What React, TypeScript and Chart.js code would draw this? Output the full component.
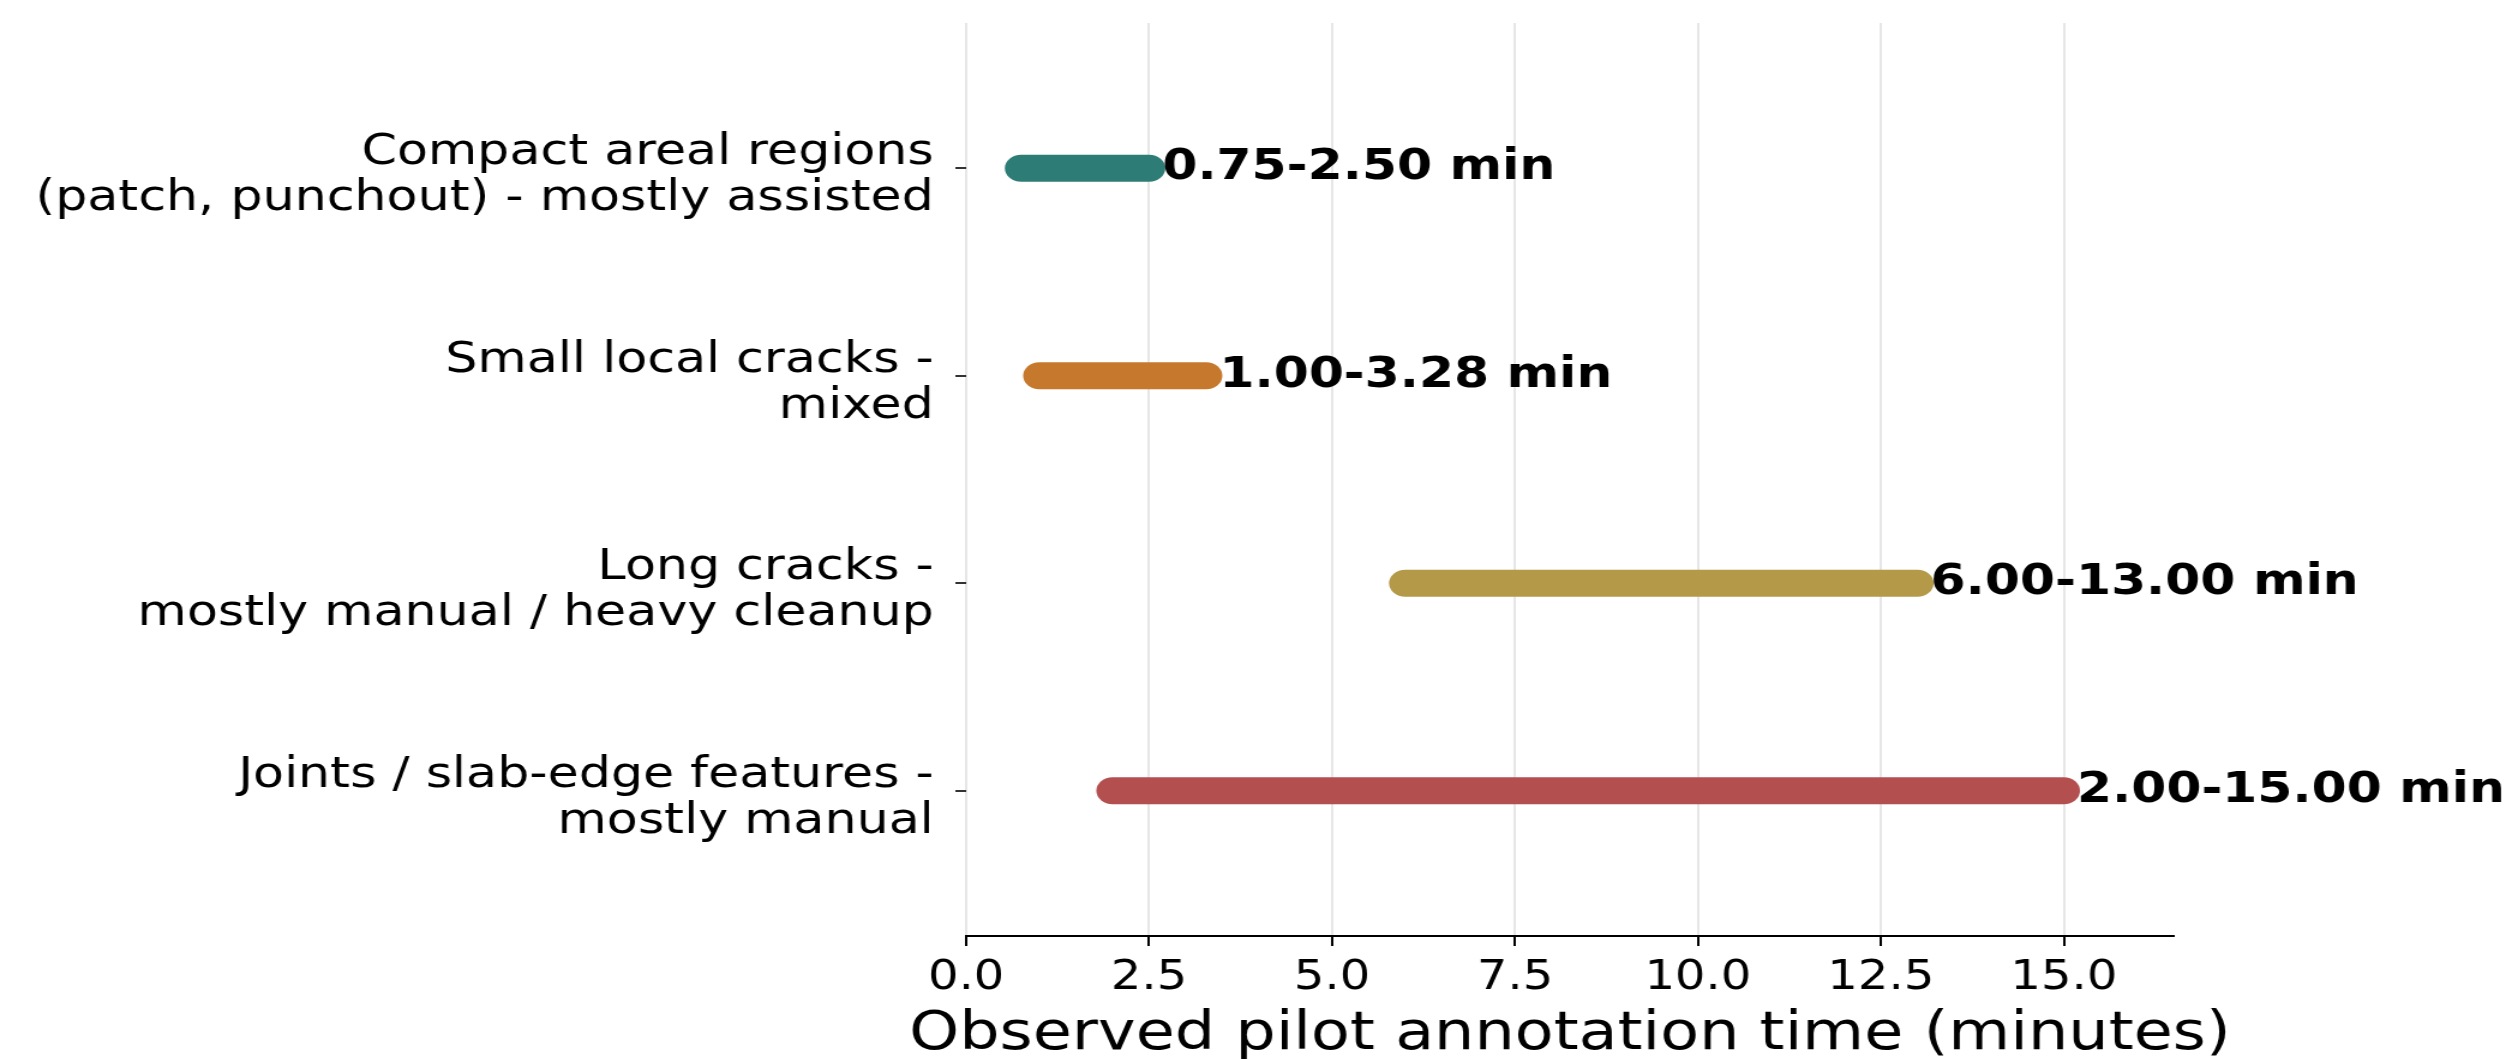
import React, { useEffect, useRef } from 'react';
import { Chart, registerables } from 'chart.js';

Chart.register(...registerables);

// ---- data ----
const CATEGORY_LABELS: string[][] = [
  ['Compact areal regions', '(patch, punchout) - mostly assisted'],
  ['Small local cracks -', 'mixed'],
  ['Long cracks -', 'mostly manual / heavy cleanup'],
  ['Joints / slab-edge features -', 'mostly manual'],
];
const RANGE_START = [0.75, 1.0, 6.0, 2.0];
const RANGE_END = [2.5, 3.28, 13.0, 15.0];
const BAR_COLORS = ['#2e7c76', '#c6792d', '#b39948', '#b44f4f'];
const X_TICKS = [0, 2.5, 5, 7.5, 10, 12.5, 15];
const Y_TICKS = [0, 1, 2, 3];
const X_TITLE = 'Observed pilot annotation time (minutes)';

// ---- layout (canvas drawn narrower, then stretched horizontally like the reference) ----
const OUT_W = 2506;
const OUT_H = 1059;
const STRETCH = 1.2;
const CW = Math.round(OUT_W / STRETCH);
const FONT = "'DejaVu Sans', 'Liberation Sans', sans-serif";

export default function App() {
  const ref = useRef<HTMLCanvasElement | null>(null);

  useEffect(() => {
    const canvas = ref.current;
    if (!canvas) return;

    const labelPlugin = {
      id: 'rangeLabels',
      afterDatasetsDraw(chart: any) {
        const { ctx, scales } = chart;
        ctx.save();
        ctx.font = `bold 42px ${FONT}`;
        ctx.fillStyle = '#000';
        ctx.textAlign = 'left';
        ctx.textBaseline = 'middle';
        RANGE_END.forEach((end, i) => {
          const x = scales.x.getPixelForValue(end) + 11;
          const y = scales.y.getPixelForValue(i);
          ctx.fillText(`${RANGE_START[i].toFixed(2)}-${end.toFixed(2)} min`, x, y);
        });
        ctx.restore();
      },
    };

    const axisTitlePlugin = {
      id: 'xAxisTitle',
      afterDraw(chart: any) {
        const { ctx, chartArea } = chart;
        ctx.save();
        ctx.font = `53px ${FONT}`;
        ctx.fillStyle = '#000';
        ctx.textAlign = 'center';
        ctx.textBaseline = 'middle';
        ctx.fillText(X_TITLE, (chartArea.left + chartArea.right) / 2, chart.height - 24);
        ctx.restore();
      },
    };

    const datasets = RANGE_START.map((s, i) => ({
      label: CATEGORY_LABELS[i].join(' '),
      data: [
        { x: s, y: i },
        { x: RANGE_END[i], y: i },
      ],
      showLine: true,
      borderColor: BAR_COLORS[i],
      backgroundColor: BAR_COLORS[i],
      borderWidth: 27,
      borderCapStyle: 'round' as const,
      pointRadius: 0,
      pointHoverRadius: 0,
      tension: 0,
      clip: false as any,
    }));

    const chart = new Chart(canvas, {
      type: 'scatter',
      data: { datasets },
      plugins: [labelPlugin, axisTitlePlugin],
      options: {
        responsive: false,
        animation: false,
        devicePixelRatio: 1,
        layout: { padding: { left: 0, top: 23, right: CW - 1811, bottom: 0 } },
        plugins: { legend: { display: false }, tooltip: { enabled: false } },
        scales: {
          x: {
            type: 'linear',
            min: 0,
            max: 16.5,
            afterBuildTicks: (axis: any) => {
              axis.ticks = X_TICKS.map((v) => ({ value: v }));
            },
            afterFit: (axis: any) => {
              axis.height = OUT_H - 936;
              axis.paddingLeft = 0;
              axis.paddingRight = 0;
            },
            ticks: {
              color: '#000',
              padding: 9,
              autoSkip: false,
              maxRotation: 0,
              font: { family: FONT, size: 40, lineHeight: 1.2 },
              callback: (v: any) => Number(v).toFixed(1),
            },
            grid: {
              display: true,
              drawOnChartArea: true,
              drawTicks: true,
              color: '#e6e6e6',
              lineWidth: 2,
              tickColor: '#000',
              tickLength: 10,
              tickWidth: 2,
            },
            border: { display: true, color: '#000', width: 2 },
            title: { display: false },
          },
          y: {
            type: 'linear',
            min: -0.7,
            max: 3.7,
            reverse: true,
            afterBuildTicks: (axis: any) => {
              axis.ticks = Y_TICKS.map((v) => ({ value: v }));
            },
            afterFit: (axis: any) => {
              axis.width = 805;
              axis.paddingTop = 0;
              axis.paddingBottom = 0;
            },
            ticks: {
              color: '#000',
              padding: 18,
              labelOffset: 8,
              autoSkip: false,
              font: { family: FONT, size: 42.2, lineHeight: 1.1 },
              callback: (v: any) => CATEGORY_LABELS[Math.round(Number(v))] ?? '',
            },
            grid: {
              display: true,
              drawOnChartArea: false,
              drawTicks: true,
              tickLength: 9,
              tickColor: '#333',
              tickWidth: 2,
              lineWidth: 2,
            },
            border: { display: false },
          },
        },
      },
    } as any);

    return () => chart.destroy();
  }, []);

  return (
    <div style={{ position: 'fixed', left: 0, top: 0, width: OUT_W, height: OUT_H, background: '#fff' }}>
      <canvas
        ref={ref}
        width={CW}
        height={OUT_H}
        style={{ width: `${OUT_W}px`, height: `${OUT_H}px`, display: 'block' }}
      />
    </div>
  );
}
